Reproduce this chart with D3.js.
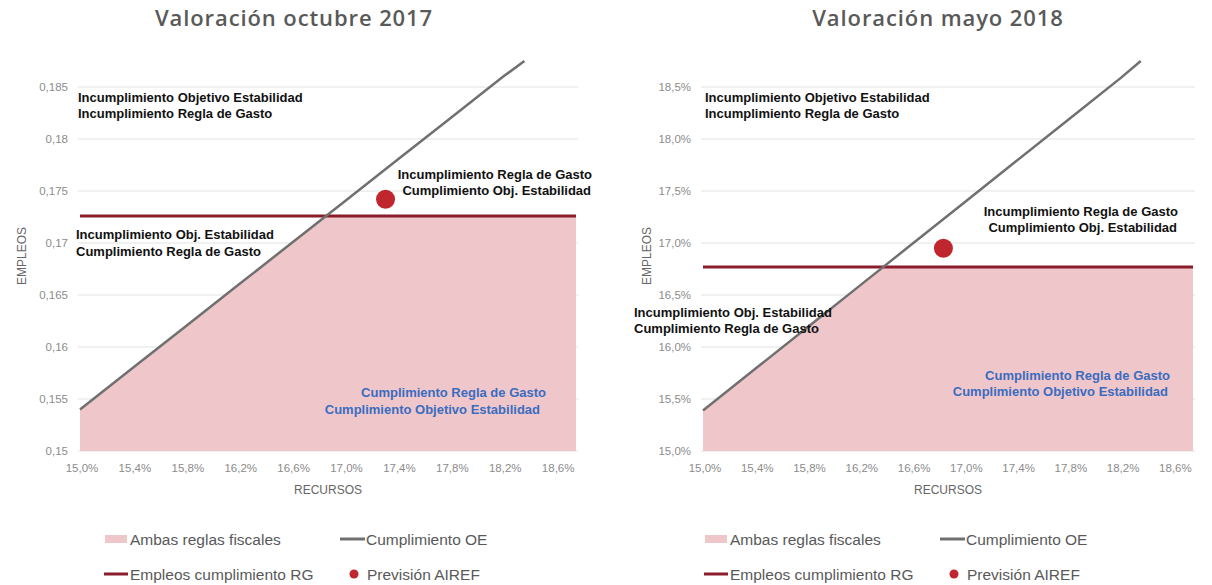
<!DOCTYPE html>
<html>
<head>
<meta charset="utf-8">
<script src="https://cdn.jsdelivr.net/npm/d3@7"></script>
<style>
  body { margin: 0; background: #fff; }
  svg { display: block; }
  .tick-label { font-family: "Liberation Sans", Arial, sans-serif; font-size: 11.5px; fill: #8c8c8c; }
  .axis-title { font-family: "Liberation Sans", Arial, sans-serif; font-size: 12px; fill: #666; }
  .note { font-family: "Liberation Sans", Arial, sans-serif; font-size: 13px; font-weight: bold; }
  .legend { font-family: "Liberation Sans", Arial, sans-serif; font-size: 15.5px; fill: #595959; }
  .title { font-family: "Open Sans", sans-serif; font-size: 22px; font-weight: 600; fill: #595959; letter-spacing: 0.9px; }
</style>
</head>
<body>
<svg id="chart" width="1212" height="585"></svg>
<script>
// x ticks (recursos, %), shared by both panels
var recursosTicks = [15.0, 15.4, 15.8, 16.2, 16.6, 17.0, 17.4, 17.8, 18.2, 18.6];

// panel 1: valoración octubre 2017
var oeRecursos17 = [15.0, 15.4, 15.8, 16.2, 16.6, 17.0, 17.4, 17.8, 18.2, 18.36];
var oeEmpleos17 = [0.154, 0.158, 0.162, 0.166, 0.170, 0.174, 0.178, 0.182, 0.186, 0.1875];
var empleosTicks17 = [0.15, 0.155, 0.16, 0.165, 0.17, 0.175, 0.18, 0.185];
var rgEmpleos17 = 0.1726;
var airefRecursos17 = 17.31;
var airefEmpleos17 = 0.1742;

// panel 2: valoración mayo 2018
var oeRecursos18 = [15.0, 15.4, 15.8, 16.2, 16.6, 17.0, 17.4, 17.8, 18.2, 18.35];
var oeEmpleos18 = [15.39, 15.79, 16.19, 16.59, 16.99, 17.39, 17.79, 18.19, 18.59, 18.75];
var empleosTicks18 = [15.0, 15.5, 16.0, 16.5, 17.0, 17.5, 18.0, 18.5];
var rgEmpleos18 = 16.77;
var airefRecursos18 = 16.84;
var airefEmpleos18 = 16.95;

var pink = '#efc7cb', red = '#8b1c2c', grey = '#707070', dotRed = '#c0262e', blue = '#3a6cc0';

var svg = d3.select('#chart');

function panel(opt) {
  var g = svg.append('g');
  var x = d3.scaleLinear().domain([15.0, 18.75]).range([opt.left, opt.right]);
  var y = d3.scaleLinear().domain(opt.yDomain).range([451, 61]);
  var yBottom = y(opt.yDomain[0]);

  // title
  g.append('text').attr('class', 'title')
    .attr('x', opt.titleX).attr('y', 26).attr('text-anchor', 'middle')
    .text(opt.title);

  // grid
  g.selectAll('.grid').data(opt.yTicks).enter().append('line')
    .attr('x1', opt.left - 2).attr('x2', opt.right + 2)
    .attr('y1', function(d) { return y(d); }).attr('y2', function(d) { return y(d); })
    .attr('stroke', '#e2e2e2').attr('stroke-width', 1);

  g.selectAll('.ylab').data(opt.yTicks).enter().append('text')
    .attr('class', 'tick-label')
    .attr('x', opt.left - 12).attr('y', function(d) { return y(d) + 4; })
    .attr('text-anchor', 'end')
    .text(opt.yFormat);

  g.selectAll('.xlab').data(recursosTicks).enter().append('text')
    .attr('class', 'tick-label')
    .attr('x', function(d) { return x(d) + 2; }).attr('y', 472)
    .attr('text-anchor', 'middle')
    .text(function(d) { return d.toFixed(1).replace('.', ',') + '%'; });

  g.append('text').attr('class', 'axis-title')
    .attr('x', (opt.left + opt.right) / 2).attr('y', 494).attr('text-anchor', 'middle')
    .text('RECURSOS');
  g.append('text').attr('class', 'axis-title')
    .attr('transform', 'translate(' + opt.yTitleX + ',256) rotate(-90)')
    .attr('text-anchor', 'middle')
    .text('EMPLEOS');

  // pink zone: below RG line and below OE line
  var oe = opt.oeX.map(function(v, i) { return {x: v, y: opt.oeY[i]}; });
  var clipId = 'clip' + opt.id;
  var clip = g.append('clipPath').attr('id', clipId);
  clip.append('path')
    .datum(oe)
    .attr('d', d3.area().x(function(d) { return x(d.x); }).y0(yBottom).y1(function(d) { return y(d.y); }));
  clip.append('rect')
    .attr('x', x(oe[oe.length - 1].x) - 1).attr('y', y(opt.yDomain[1]))
    .attr('width', opt.right - x(oe[oe.length - 1].x) + 1)
    .attr('height', yBottom - y(opt.yDomain[1]));
  g.append('rect')
    .attr('clip-path', 'url(#' + clipId + ')')
    .attr('x', opt.left).attr('y', y(opt.rg))
    .attr('width', opt.right - opt.left).attr('height', yBottom - y(opt.rg))
    .attr('fill', pink);

  // RG line
  g.append('line')
    .attr('x1', opt.left).attr('x2', opt.right)
    .attr('y1', y(opt.rg)).attr('y2', y(opt.rg))
    .attr('stroke', red).attr('stroke-width', 3);

  // OE line
  g.append('path')
    .datum(oe)
    .attr('d', d3.line().x(function(d) { return x(d.x); }).y(function(d) { return y(d.y); }))
    .attr('fill', 'none')
    .attr('stroke', grey)
    .attr('stroke-width', 2.5);

  // AIREF point
  g.append('circle')
    .attr('cx', x(opt.airef[0])).attr('cy', y(opt.airef[1]))
    .attr('r', 9.5).attr('fill', dotRed);

  // notes
  opt.notes.forEach(function(n) {
    n.lines.forEach(function(t, i) {
      g.append('text').attr('class', 'note')
        .attr('x', n.x[i]).attr('y', n.y + i * n.dy)
        .attr('text-anchor', n.anchor)
        .attr('fill', n.color)
        .text(t);
    });
  });

  // legend
  var lx = opt.legendX;
  g.append('rect').attr('x', lx + 105).attr('y', 535).attr('width', 22).attr('height', 8).attr('fill', pink);
  g.append('text').attr('class', 'legend').attr('x', lx + 130).attr('y', 545).text('Ambas reglas fiscales');
  g.append('line').attr('x1', lx + 340).attr('x2', lx + 365).attr('y1', 539).attr('y2', 539)
    .attr('stroke', grey).attr('stroke-width', 3);
  g.append('text').attr('class', 'legend').attr('x', lx + 366).attr('y', 545).text('Cumplimiento OE');
  g.append('line').attr('x1', lx + 104).attr('x2', lx + 128).attr('y1', 574).attr('y2', 574)
    .attr('stroke', red).attr('stroke-width', 3);
  g.append('text').attr('class', 'legend').attr('x', lx + 130).attr('y', 580).text('Empleos cumplimiento RG');
  g.append('circle').attr('cx', lx + 354).attr('cy', 574).attr('r', 4.5).attr('fill', dotRed);
  g.append('text').attr('class', 'legend').attr('x', lx + 367).attr('y', 580).text('Previsión AIREF');
}

panel({
  id: 1, left: 80, right: 576, titleX: 294, yTitleX: 26, legendX: 0,
  title: 'Valoración octubre 2017',
  yDomain: [0.15, 0.1875], yTicks: empleosTicks17,
  yFormat: function(d) { return String(+d.toFixed(3)).replace('.', ','); },
  oeX: oeRecursos17, oeY: oeEmpleos17, rg: rgEmpleos17,
  airef: [airefRecursos17, airefEmpleos17],
  notes: [
    {lines: ['Incumplimiento Objetivo Estabilidad', 'Incumplimiento Regla de Gasto'], x: [78, 78], y: 102, dy: 16, anchor: 'start', color: '#111'},
    {lines: ['Incumplimiento Regla de Gasto', 'Cumplimiento Obj. Estabilidad'], x: [592, 591], y: 179, dy: 16, anchor: 'end', color: '#111'},
    {lines: ['Incumplimiento Obj. Estabilidad', 'Cumplimiento Regla de Gasto'], x: [76, 76], y: 239, dy: 17, anchor: 'start', color: '#111'},
    {lines: ['Cumplimiento Regla de Gasto', 'Cumplimiento Objetivo Estabilidad'], x: [546, 540], y: 397, dy: 17, anchor: 'end', color: blue}
  ]
});

panel({
  id: 2, left: 703, right: 1193, titleX: 938, yTitleX: 651, legendX: 600,
  title: 'Valoración mayo 2018',
  yDomain: [15.0, 18.75], yTicks: empleosTicks18,
  yFormat: function(d) { return d.toFixed(1).replace('.', ',') + '%'; },
  oeX: oeRecursos18, oeY: oeEmpleos18, rg: rgEmpleos18,
  airef: [airefRecursos18, airefEmpleos18],
  notes: [
    {lines: ['Incumplimiento Objetivo Estabilidad', 'Incumplimiento Regla de Gasto'], x: [705, 705], y: 102, dy: 16, anchor: 'start', color: '#111'},
    {lines: ['Incumplimiento Regla de Gasto', 'Cumplimiento Obj. Estabilidad'], x: [1178, 1177], y: 216, dy: 16, anchor: 'end', color: '#111'},
    {lines: ['Incumplimiento Obj. Estabilidad', 'Cumplimiento Regla de Gasto'], x: [634, 634], y: 317, dy: 16, anchor: 'start', color: '#111'},
    {lines: ['Cumplimiento Regla de Gasto', 'Cumplimiento Objetivo Estabilidad'], x: [1170, 1168], y: 380, dy: 16, anchor: 'end', color: blue}
  ]
});
</script>
</body>
</html>
